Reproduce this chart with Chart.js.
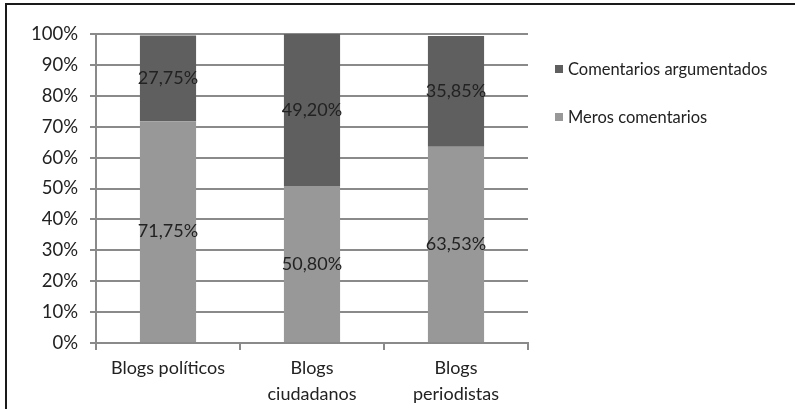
<!DOCTYPE html>
<html>
<head>
<meta charset="utf-8">
<script src="https://cdn.jsdelivr.net/npm/chart.js@4/dist/chart.umd.min.js"></script>
<style>
  html, body { margin: 0; padding: 0; background: #fff; }
  #wrap { position: relative; width: 795px; height: 409px; overflow: hidden; font-family: Lato, "Open Sans", sans-serif; }
  #frame { position: absolute; left: 5px; top: 3px; width: 800px; height: 420px; border-top: 2px solid #1a1a1a; border-left: 2px solid #1a1a1a; }
  canvas { position: absolute; left: 0; top: 0; }
  #legend { position: absolute; left: 555px; top: 57px; color: #222; font-size: 16.5px; }
  .li { display: flex; align-items: center; height: 24px; margin-bottom: 24px; }
  .sw { width: 8px; height: 8px; margin-right: 5px; }
</style>
</head>
<body>
<div id="wrap">
  <div id="frame"></div>
  <canvas id="c" width="795" height="409"></canvas>
  <div id="legend"></div>
</div>
<script>
const categories = ["Blogs políticos", ["Blogs", "ciudadanos"], ["Blogs", "periodistas"]];
const merosComentarios = [71.75, 50.80, 63.53];
const comentariosArgumentados = [27.75, 49.20, 35.85];
const seriesNames = ["Meros comentarios", "Comentarios argumentados"];
const seriesColors = ["#989898", "#5f5f5f"];
const yTicks = [0, 10, 20, 30, 40, 50, 60, 70, 80, 90, 100];

const fmt = v => v.toFixed(2).replace('.', ',') + '%';
const FAM = 'Lato, "Open Sans", sans-serif';

const labelPlugin = {
  id: 'segLabels',
  afterDatasetsDraw(chart) {
    const ctx = chart.ctx;
    ctx.save();
    ctx.font = '18px ' + FAM;
    ctx.fillStyle = '#222';
    ctx.textAlign = 'center';
    ctx.textBaseline = 'middle';
    chart.data.datasets.forEach((ds, di) => {
      const meta = chart.getDatasetMeta(di);
      meta.data.forEach((bar, i) => {
        const p = bar.getProps(['x', 'y', 'base'], true);
        ctx.fillText(fmt(ds.data[i]), p.x, (p.y + p.base) / 2);
      });
    });
    ctx.restore();
  }
};

const gridColor = '#8a8a8a';
new Chart(document.getElementById('c'), {
  type: 'bar',
  data: {
    labels: categories,
    datasets: [
      { label: seriesNames[0], data: merosComentarios, backgroundColor: seriesColors[0] },
      { label: seriesNames[1], data: comentariosArgumentados, backgroundColor: seriesColors[1] }
    ]
  },
  options: {
    responsive: false,
    animation: false,
    events: [],
    layout: { padding: { top: 34, right: 267, left: 0, bottom: 0 } },
    datasets: { bar: { categoryPercentage: 1, barPercentage: 0.39 } },
    plugins: { legend: { display: false }, tooltip: { enabled: false } },
    scales: {
      x: {
        stacked: true,
        grid: { display: true, drawOnChartArea: false, drawTicks: true, tickLength: 7, color: gridColor, lineWidth: 2, offset: true },
        border: { color: gridColor, width: 2 },
        ticks: { color: '#222', font: { size: 18, family: FAM, lineHeight: 1.45 }, padding: 5, maxRotation: 0 },
        afterFit(s) { s.height = 66; }
      },
      y: {
        stacked: true,
        min: 0, max: 100,
        afterBuildTicks(s) { s.ticks = yTicks.map(v => ({ value: v })); },
        grid: { color: gridColor, lineWidth: 2, tickLength: 6 },
        border: { color: gridColor, width: 2 },
        ticks: { color: '#222', font: { size: 18.5, family: FAM }, padding: 12, callback: v => v + '%' },
        afterFit(s) { s.width = 96; }
      }
    }
  },
  plugins: [labelPlugin]
});

const leg = document.getElementById('legend');
[1, 0].forEach(i => {
  const d = document.createElement('div');
  d.className = 'li';
  d.innerHTML = '<span class="sw" style="background:' + seriesColors[i] + '"></span><span>' + seriesNames[i] + '</span>';
  leg.appendChild(d);
});
</script>
</body>
</html>
